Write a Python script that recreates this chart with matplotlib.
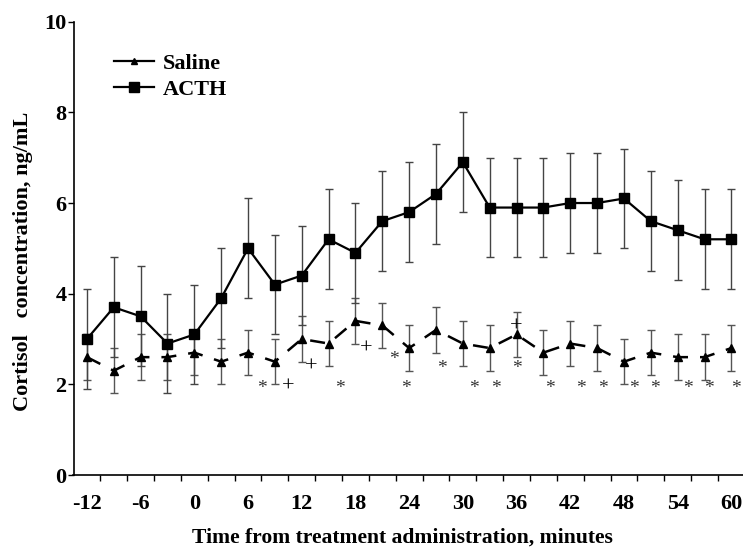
import matplotlib
matplotlib.use('Agg')
import matplotlib.pyplot as plt
from matplotlib.lines import Line2D

plt.rcParams['font.family'] = ['Liberation Serif', 'DejaVu Serif']
plt.rcParams['font.weight'] = 'bold'

# Datos
minutos = [-12, -9, -6, -3, 0, 3, 6, 9, 12, 15, 18, 21, 24,
           27, 30, 33, 36, 39, 42, 45, 48, 51, 54, 57, 60]
acth = [3.0, 3.7, 3.5, 2.9, 3.1, 3.9, 5.0, 4.2, 4.4, 5.2, 4.9, 5.6, 5.8,
        6.2, 6.9, 5.9, 5.9, 5.9, 6.0, 6.0, 6.1, 5.6, 5.4, 5.2, 5.2]
acth_ee = [1.1, 1.1, 1.1, 1.1, 1.1, 1.1, 1.1, 1.1, 1.1, 1.1, 1.1, 1.1, 1.1,
           1.1, 1.1, 1.1, 1.1, 1.1, 1.1, 1.1, 1.1, 1.1, 1.1, 1.1, 1.1]
salina = [2.6, 2.3, 2.6, 2.6, 2.7, 2.5, 2.7, 2.5, 3.0, 2.9, 3.4, 3.3, 2.8,
          3.2, 2.9, 2.8, 3.1, 2.7, 2.9, 2.8, 2.5, 2.7, 2.6, 2.6, 2.8]
salina_ee = [0.5, 0.5, 0.5, 0.5, 0.5, 0.5, 0.5, 0.5, 0.5, 0.5, 0.5, 0.5, 0.5,
             0.5, 0.5, 0.5, 0.5, 0.5, 0.5, 0.5, 0.5, 0.5, 0.5, 0.5, 0.5]

# Marcas de significancia
asterisco_x = [7.5, 16.3, 22.3, 23.6, 27.7, 31.2, 33.7, 36.0, 39.7,
               43.2, 45.6, 49.1, 51.5, 55.1, 57.5, 60.5]
asterisco_y = [1.95, 1.95, 2.6, 1.95, 2.4, 1.95, 1.95, 2.4, 1.95,
               1.95, 1.95, 1.95, 1.95, 1.95, 1.95, 1.95]
cruz_x = [10.5, 13.1, 19.2, 36.0]
cruz_y = [1.95, 2.38, 2.77, 3.27]

etiquetas_x = [-12, -6, 0, 6, 12, 18, 24, 30, 36, 42, 48, 54, 60]
ticks_y = [0, 2, 4, 6, 8, 10]

fig = plt.figure(figsize=(7.43, 5.48), dpi=100)
ax = fig.add_axes([73.5 / 743, 0.1332, 1 - 73.5 / 743, 0.8272])

# Salina
ax.errorbar(minutos, salina, yerr=salina_ee, fmt='none', ecolor='#555555',
            elinewidth=1, capsize=3, capthick=1, zorder=2)
ax.plot(minutos, salina, color='black', lw=1.8, dashes=(6, 4.8),
        marker='^', ms=6, zorder=3)

# ACTH
ax.errorbar(minutos, acth, yerr=acth_ee, fmt='none', ecolor='#444444',
            elinewidth=1, capsize=3, capthick=1, zorder=2)
ax.plot(minutos, acth, color='black', lw=1.6, marker='s', ms=6.5, zorder=3)

for x, y in zip(asterisco_x, asterisco_y):
    ax.text(x, y - 0.05, '*', ha='center', va='center', fontsize=14,
            fontweight='normal', color='#333333')
for x, y in zip(cruz_x, cruz_y):
    ax.text(x, y, '+', ha='center', va='center', fontsize=16,
            fontweight='normal', color='black')

ax.set_xlim(-13.5, 61.3)
ax.set_ylim(0, 10)
ax.set_yticks(ticks_y)
ax.set_yticklabels([str(v) for v in ticks_y], fontsize=16, fontweight='bold')
ax.set_xticks(etiquetas_x)
ax.set_xticklabels([str(v) for v in etiquetas_x], fontsize=16, fontweight='bold')
ax.set_xticks([m + 1.5 for m in minutos[:-1]], minor=True)
ax.tick_params(axis='x', which='major', length=0, pad=14)
ax.tick_params(axis='x', which='minor', length=4, width=1, direction='out')
ax.tick_params(axis='y', length=4, width=1, pad=1)

for lado in ['top', 'right']:
    ax.spines[lado].set_visible(False)
ax.spines['left'].set_linewidth(1.2)
ax.spines['bottom'].set_linewidth(1.2)

ax.set_xlabel('Time from treatment administration, minutes', fontsize=15.6,
              fontweight='bold')
ax.xaxis.set_label_coords(0.492, -0.115)
ax.set_ylabel('Cortisol   concentration, ng/mL', fontsize=16, fontweight='bold')
ax.yaxis.set_label_coords(-0.061, 0.472)

# Leyenda
manejadores = [
    Line2D([], [], color='black', lw=1.6, marker='^', ms=5),
    Line2D([], [], color='black', lw=1.6, marker='s', ms=6.5),
]
ax.legend(manejadores, ['Saline', 'ACTH'], loc='upper left',
          bbox_to_anchor=(0.03, 0.975), frameon=False,
          handlelength=1.8, handletextpad=0.4, labelspacing=0.25,
          prop={'weight': 'bold', 'size': 16})

fig.savefig('out.png', dpi=100)
